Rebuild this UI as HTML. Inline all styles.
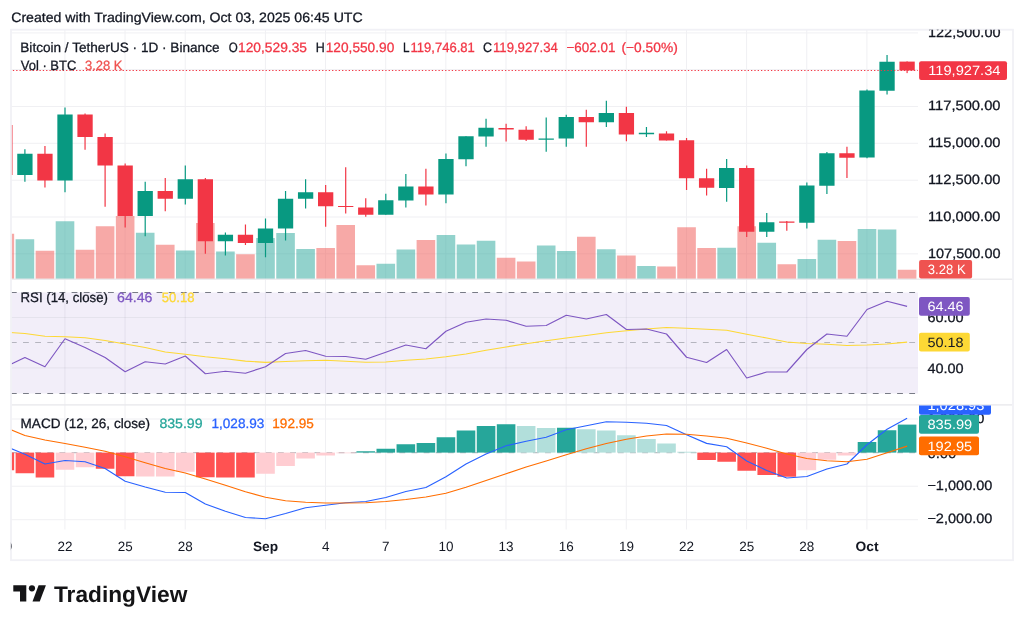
<!DOCTYPE html>
<html lang="en"><head><meta charset="utf-8"><title>BTCUSDT chart</title>
<style>
html,body{margin:0;padding:0;background:#fff;}
body{width:1024px;height:627px;overflow:hidden;}
svg{display:block;will-change:transform;}
text{font-family:'Liberation Sans', sans-serif;text-rendering:geometricPrecision;}
</style></head><body>
<svg width="1024" height="627" viewBox="0 0 1024 627" fill="#131722">
<defs>
<clipPath id="cm"><rect x="10.9" y="29.5" width="907.1" height="249.7"/></clipPath>
<clipPath id="cr"><rect x="10.9" y="279.2" width="907.1" height="125.69999999999999"/></clipPath>
<clipPath id="cd"><rect x="10.9" y="404.9" width="907.1" height="124.60000000000002"/></clipPath>
<clipPath id="cda"><rect x="918.0" y="405.4" width="94.5" height="124.60000000000002"/></clipPath>
<clipPath id="cax"><rect x="918.0" y="29.8" width="94.5" height="530.0"/></clipPath>
<clipPath id="ct"><rect x="10.9" y="529.5" width="1001.6" height="30.0"/></clipPath>
</defs>
<rect width="1024" height="627" fill="#fff"/>

<text x="11.2" y="21.7" font-size="13.6" stroke="#131722" stroke-width="0.28" textLength="351.5" lengthAdjust="spacingAndGlyphs">Created with TradingView.com, Oct 03, 2025 06:45 UTC</text>
<rect x="64.40" y="29.5" width="1.0" height="500.0" fill="#f0f0f3"/>
<rect x="124.55" y="29.5" width="1.0" height="500.0" fill="#f0f0f3"/>
<rect x="184.70" y="29.5" width="1.0" height="500.0" fill="#f0f0f3"/>
<rect x="264.90" y="29.5" width="1.0" height="500.0" fill="#f0f0f3"/>
<rect x="325.05" y="29.5" width="1.0" height="500.0" fill="#f0f0f3"/>
<rect x="385.20" y="29.5" width="1.0" height="500.0" fill="#f0f0f3"/>
<rect x="445.35" y="29.5" width="1.0" height="500.0" fill="#f0f0f3"/>
<rect x="505.50" y="29.5" width="1.0" height="500.0" fill="#f0f0f3"/>
<rect x="565.65" y="29.5" width="1.0" height="500.0" fill="#f0f0f3"/>
<rect x="625.80" y="29.5" width="1.0" height="500.0" fill="#f0f0f3"/>
<rect x="685.95" y="29.5" width="1.0" height="500.0" fill="#f0f0f3"/>
<rect x="746.10" y="29.5" width="1.0" height="500.0" fill="#f0f0f3"/>
<rect x="806.25" y="29.5" width="1.0" height="500.0" fill="#f0f0f3"/>
<rect x="866.40" y="29.5" width="1.0" height="500.0" fill="#f0f0f3"/>
<rect x="10.9" y="32.40" width="907.1" height="1.0" fill="#f0f0f3"/>
<rect x="10.9" y="69.10" width="907.1" height="1.0" fill="#f0f0f3"/>
<rect x="10.9" y="105.96" width="907.1" height="1.0" fill="#f0f0f3"/>
<rect x="10.9" y="142.80" width="907.1" height="1.0" fill="#f0f0f3"/>
<rect x="10.9" y="179.70" width="907.1" height="1.0" fill="#f0f0f3"/>
<rect x="10.9" y="216.50" width="907.1" height="1.0" fill="#f0f0f3"/>
<rect x="10.9" y="253.37" width="907.1" height="1.0" fill="#f0f0f3"/>
<rect x="10.9" y="292.5" width="907.1" height="101.00" fill="#7e57c2" fill-opacity="0.1"/>
<rect x="10.9" y="317.00" width="907.1" height="1.0" fill="#2a2e39" fill-opacity="0.06"/>
<rect x="10.9" y="367.40" width="907.1" height="1.0" fill="#2a2e39" fill-opacity="0.06"/>
<rect x="10.9" y="418.50" width="907.1" height="1.0" fill="#f0f0f3"/>
<rect x="10.9" y="485.70" width="907.1" height="1.0" fill="#f0f0f3"/>
<rect x="10.9" y="519.20" width="907.1" height="1.0" fill="#f0f0f3"/>
<g clip-path="url(#cm)">
<rect x="-4.45" y="233.75" width="18.6" height="45.45" fill="#ef5350" fill-opacity="0.5"/>
<rect x="15.60" y="239.25" width="18.6" height="39.95" fill="#26a69a" fill-opacity="0.5"/>
<rect x="35.65" y="250.75" width="18.6" height="28.45" fill="#ef5350" fill-opacity="0.5"/>
<rect x="55.70" y="221.25" width="18.6" height="57.95" fill="#26a69a" fill-opacity="0.5"/>
<rect x="75.75" y="249.75" width="18.6" height="29.45" fill="#ef5350" fill-opacity="0.5"/>
<rect x="95.80" y="226.25" width="18.6" height="52.95" fill="#ef5350" fill-opacity="0.5"/>
<rect x="115.85" y="216.00" width="18.6" height="63.20" fill="#ef5350" fill-opacity="0.5"/>
<rect x="135.90" y="232.75" width="18.6" height="46.45" fill="#26a69a" fill-opacity="0.5"/>
<rect x="155.95" y="244.75" width="18.6" height="34.45" fill="#ef5350" fill-opacity="0.5"/>
<rect x="176.00" y="250.50" width="18.6" height="28.70" fill="#26a69a" fill-opacity="0.5"/>
<rect x="196.05" y="223.00" width="18.6" height="56.20" fill="#ef5350" fill-opacity="0.5"/>
<rect x="216.10" y="251.50" width="18.6" height="27.70" fill="#26a69a" fill-opacity="0.5"/>
<rect x="236.15" y="254.25" width="18.6" height="24.95" fill="#ef5350" fill-opacity="0.5"/>
<rect x="256.20" y="238.00" width="18.6" height="41.20" fill="#26a69a" fill-opacity="0.5"/>
<rect x="276.25" y="233.00" width="18.6" height="46.20" fill="#26a69a" fill-opacity="0.5"/>
<rect x="296.30" y="249.00" width="18.6" height="30.20" fill="#26a69a" fill-opacity="0.5"/>
<rect x="316.35" y="248.00" width="18.6" height="31.20" fill="#ef5350" fill-opacity="0.5"/>
<rect x="336.40" y="225.00" width="18.6" height="54.20" fill="#ef5350" fill-opacity="0.5"/>
<rect x="356.45" y="265.25" width="18.6" height="13.95" fill="#ef5350" fill-opacity="0.5"/>
<rect x="376.50" y="263.75" width="18.6" height="15.45" fill="#26a69a" fill-opacity="0.5"/>
<rect x="396.55" y="249.50" width="18.6" height="29.70" fill="#26a69a" fill-opacity="0.5"/>
<rect x="416.60" y="240.00" width="18.6" height="39.20" fill="#ef5350" fill-opacity="0.5"/>
<rect x="436.65" y="235.00" width="18.6" height="44.20" fill="#26a69a" fill-opacity="0.5"/>
<rect x="456.70" y="244.50" width="18.6" height="34.70" fill="#26a69a" fill-opacity="0.5"/>
<rect x="476.75" y="240.75" width="18.6" height="38.45" fill="#26a69a" fill-opacity="0.5"/>
<rect x="496.80" y="257.75" width="18.6" height="21.45" fill="#ef5350" fill-opacity="0.5"/>
<rect x="516.85" y="261.50" width="18.6" height="17.70" fill="#ef5350" fill-opacity="0.5"/>
<rect x="536.90" y="245.50" width="18.6" height="33.70" fill="#26a69a" fill-opacity="0.5"/>
<rect x="556.95" y="251.00" width="18.6" height="28.20" fill="#26a69a" fill-opacity="0.5"/>
<rect x="577.00" y="236.75" width="18.6" height="42.45" fill="#ef5350" fill-opacity="0.5"/>
<rect x="597.05" y="249.25" width="18.6" height="29.95" fill="#26a69a" fill-opacity="0.5"/>
<rect x="617.10" y="255.50" width="18.6" height="23.70" fill="#ef5350" fill-opacity="0.5"/>
<rect x="637.15" y="266.00" width="18.6" height="13.20" fill="#26a69a" fill-opacity="0.5"/>
<rect x="657.20" y="266.50" width="18.6" height="12.70" fill="#ef5350" fill-opacity="0.5"/>
<rect x="677.25" y="227.25" width="18.6" height="51.95" fill="#ef5350" fill-opacity="0.5"/>
<rect x="697.30" y="248.00" width="18.6" height="31.20" fill="#ef5350" fill-opacity="0.5"/>
<rect x="717.35" y="247.75" width="18.6" height="31.45" fill="#26a69a" fill-opacity="0.5"/>
<rect x="737.40" y="226.25" width="18.6" height="52.95" fill="#ef5350" fill-opacity="0.5"/>
<rect x="757.45" y="242.75" width="18.6" height="36.45" fill="#26a69a" fill-opacity="0.5"/>
<rect x="777.50" y="264.25" width="18.6" height="14.95" fill="#ef5350" fill-opacity="0.5"/>
<rect x="797.55" y="259.00" width="18.6" height="20.20" fill="#26a69a" fill-opacity="0.5"/>
<rect x="817.60" y="239.75" width="18.6" height="39.45" fill="#26a69a" fill-opacity="0.5"/>
<rect x="837.65" y="241.00" width="18.6" height="38.20" fill="#ef5350" fill-opacity="0.5"/>
<rect x="857.70" y="229.00" width="18.6" height="50.20" fill="#26a69a" fill-opacity="0.5"/>
<rect x="877.75" y="229.50" width="18.6" height="49.70" fill="#26a69a" fill-opacity="0.5"/>
<rect x="897.80" y="269.75" width="18.6" height="9.45" fill="#ef5350" fill-opacity="0.5"/>
<rect x="4.25" y="121.00" width="1.2" height="55.00" fill="#f23645"/>
<rect x="-2.80" y="125.00" width="15.3" height="50.00" fill="#f23645"/>
<rect x="24.30" y="149.25" width="1.2" height="32.50" fill="#089981"/>
<rect x="17.25" y="153.75" width="15.3" height="21.25" fill="#089981"/>
<rect x="44.35" y="146.00" width="1.2" height="41.50" fill="#f23645"/>
<rect x="37.30" y="153.75" width="15.3" height="26.75" fill="#f23645"/>
<rect x="64.40" y="107.50" width="1.2" height="84.75" fill="#089981"/>
<rect x="57.35" y="114.50" width="15.3" height="66.00" fill="#089981"/>
<rect x="84.45" y="113.50" width="1.2" height="36.25" fill="#f23645"/>
<rect x="77.40" y="114.50" width="15.3" height="22.50" fill="#f23645"/>
<rect x="104.50" y="133.50" width="1.2" height="73.25" fill="#f23645"/>
<rect x="97.45" y="137.00" width="15.3" height="28.50" fill="#f23645"/>
<rect x="124.55" y="163.50" width="1.2" height="64.00" fill="#f23645"/>
<rect x="117.50" y="165.50" width="15.3" height="50.50" fill="#f23645"/>
<rect x="144.60" y="181.75" width="1.2" height="54.50" fill="#089981"/>
<rect x="137.55" y="191.00" width="15.3" height="25.00" fill="#089981"/>
<rect x="164.65" y="178.00" width="1.2" height="33.25" fill="#f23645"/>
<rect x="157.60" y="191.00" width="15.3" height="7.75" fill="#f23645"/>
<rect x="184.70" y="165.50" width="1.2" height="39.00" fill="#089981"/>
<rect x="177.65" y="179.25" width="15.3" height="19.50" fill="#089981"/>
<rect x="204.75" y="178.00" width="1.2" height="75.75" fill="#f23645"/>
<rect x="197.70" y="179.25" width="15.3" height="62.00" fill="#f23645"/>
<rect x="224.80" y="232.50" width="1.2" height="23.00" fill="#089981"/>
<rect x="217.75" y="234.75" width="15.3" height="6.50" fill="#089981"/>
<rect x="244.85" y="224.50" width="1.2" height="20.50" fill="#f23645"/>
<rect x="237.80" y="234.75" width="15.3" height="8.25" fill="#f23645"/>
<rect x="264.90" y="218.50" width="1.2" height="38.75" fill="#089981"/>
<rect x="257.85" y="228.50" width="15.3" height="14.50" fill="#089981"/>
<rect x="284.95" y="191.00" width="1.2" height="49.50" fill="#089981"/>
<rect x="277.90" y="198.75" width="15.3" height="29.75" fill="#089981"/>
<rect x="305.00" y="179.25" width="1.2" height="29.25" fill="#089981"/>
<rect x="297.95" y="192.25" width="15.3" height="6.50" fill="#089981"/>
<rect x="325.05" y="185.00" width="1.2" height="41.75" fill="#f23645"/>
<rect x="318.00" y="192.25" width="15.3" height="14.00" fill="#f23645"/>
<rect x="345.10" y="167.25" width="1.2" height="46.25" fill="#f23645"/>
<rect x="338.05" y="206.00" width="15.3" height="1.00" fill="#f23645"/>
<rect x="365.15" y="198.25" width="1.2" height="18.50" fill="#f23645"/>
<rect x="358.10" y="207.50" width="15.3" height="7.25" fill="#f23645"/>
<rect x="385.20" y="193.75" width="1.2" height="21.00" fill="#089981"/>
<rect x="378.15" y="200.25" width="15.3" height="14.50" fill="#089981"/>
<rect x="405.25" y="174.00" width="1.2" height="33.50" fill="#089981"/>
<rect x="398.20" y="186.50" width="15.3" height="14.00" fill="#089981"/>
<rect x="425.30" y="168.75" width="1.2" height="36.75" fill="#f23645"/>
<rect x="418.25" y="186.50" width="15.3" height="8.00" fill="#f23645"/>
<rect x="445.35" y="153.50" width="1.2" height="49.75" fill="#089981"/>
<rect x="438.30" y="159.00" width="15.3" height="35.50" fill="#089981"/>
<rect x="465.40" y="136.25" width="1.2" height="30.00" fill="#089981"/>
<rect x="458.35" y="136.25" width="15.3" height="23.00" fill="#089981"/>
<rect x="485.45" y="118.75" width="1.2" height="28.00" fill="#089981"/>
<rect x="478.40" y="127.75" width="15.3" height="8.75" fill="#089981"/>
<rect x="505.50" y="123.75" width="1.2" height="17.75" fill="#f23645"/>
<rect x="498.45" y="128.00" width="15.3" height="1.50" fill="#f23645"/>
<rect x="525.55" y="126.25" width="1.2" height="14.75" fill="#f23645"/>
<rect x="518.50" y="129.75" width="15.3" height="10.00" fill="#f23645"/>
<rect x="545.60" y="117.50" width="1.2" height="34.25" fill="#089981"/>
<rect x="538.55" y="138.50" width="15.3" height="1.25" fill="#089981"/>
<rect x="565.65" y="114.75" width="1.2" height="32.00" fill="#089981"/>
<rect x="558.60" y="117.00" width="15.3" height="21.50" fill="#089981"/>
<rect x="585.70" y="109.75" width="1.2" height="37.00" fill="#f23645"/>
<rect x="578.65" y="117.00" width="15.3" height="5.25" fill="#f23645"/>
<rect x="605.75" y="100.75" width="1.2" height="26.25" fill="#089981"/>
<rect x="598.70" y="113.00" width="15.3" height="9.25" fill="#089981"/>
<rect x="625.80" y="106.75" width="1.2" height="34.50" fill="#f23645"/>
<rect x="618.75" y="113.00" width="15.3" height="21.50" fill="#f23645"/>
<rect x="645.85" y="127.00" width="1.2" height="10.00" fill="#089981"/>
<rect x="638.80" y="132.75" width="15.3" height="1.50" fill="#089981"/>
<rect x="665.90" y="131.25" width="1.2" height="9.25" fill="#f23645"/>
<rect x="658.85" y="133.50" width="15.3" height="7.00" fill="#f23645"/>
<rect x="685.95" y="138.00" width="1.2" height="52.00" fill="#f23645"/>
<rect x="678.90" y="140.25" width="15.3" height="38.00" fill="#f23645"/>
<rect x="706.00" y="168.75" width="1.2" height="26.75" fill="#f23645"/>
<rect x="698.95" y="178.25" width="15.3" height="9.50" fill="#f23645"/>
<rect x="726.05" y="159.00" width="1.2" height="42.75" fill="#089981"/>
<rect x="719.00" y="168.00" width="15.3" height="20.00" fill="#089981"/>
<rect x="746.10" y="165.50" width="1.2" height="71.50" fill="#f23645"/>
<rect x="739.05" y="168.00" width="15.3" height="63.75" fill="#f23645"/>
<rect x="766.15" y="213.00" width="1.2" height="24.00" fill="#089981"/>
<rect x="759.10" y="222.25" width="15.3" height="9.50" fill="#089981"/>
<rect x="786.20" y="221.00" width="1.2" height="9.75" fill="#f23645"/>
<rect x="779.15" y="221.50" width="15.3" height="1.25" fill="#f23645"/>
<rect x="806.25" y="182.50" width="1.2" height="46.00" fill="#089981"/>
<rect x="799.20" y="185.50" width="15.3" height="37.25" fill="#089981"/>
<rect x="826.30" y="152.00" width="1.2" height="42.00" fill="#089981"/>
<rect x="819.25" y="153.25" width="15.3" height="32.50" fill="#089981"/>
<rect x="846.35" y="146.75" width="1.2" height="31.25" fill="#f23645"/>
<rect x="839.30" y="153.25" width="15.3" height="4.50" fill="#f23645"/>
<rect x="866.40" y="89.50" width="1.2" height="68.75" fill="#089981"/>
<rect x="859.35" y="90.50" width="15.3" height="67.00" fill="#089981"/>
<rect x="886.45" y="55.00" width="1.2" height="39.50" fill="#089981"/>
<rect x="879.40" y="61.75" width="15.3" height="29.00" fill="#089981"/>
<rect x="906.50" y="61.40" width="1.2" height="11.70" fill="#f23645"/>
<rect x="899.45" y="61.60" width="15.3" height="8.85" fill="#f23645"/>
</g>
<line x1="12.87" y1="70.5" x2="918.0" y2="70.5" stroke="#f23645" stroke-width="1.2" stroke-dasharray="1.3 2.025"/>
<g clip-path="url(#cr)">
<line x1="10.9" y1="292.5" x2="918.0" y2="292.5" stroke="#787b86" stroke-width="1.2" stroke-dasharray="5.8 6.34"/>
<line x1="10.9" y1="342.5" x2="918.0" y2="342.5" stroke="#787b86" stroke-opacity="0.5" stroke-width="1.2" stroke-dasharray="5.8 6.34"/>
<line x1="10.9" y1="393.5" x2="918.0" y2="393.5" stroke="#787b86" stroke-width="1.2" stroke-dasharray="5.8 6.34"/>
<polyline points="4.85,332.20 24.90,333.50 44.95,336.25 65.00,336.75 85.05,337.75 105.10,340.50 125.15,344.00 145.20,347.50 165.25,352.00 185.30,354.25 205.35,356.75 225.40,358.75 245.45,361.10 265.50,362.40 285.55,361.50 305.60,360.75 325.65,360.25 345.70,361.25 365.75,362.25 385.80,362.00 405.85,360.25 425.90,359.00 445.95,356.75 466.00,354.00 486.05,350.30 506.10,347.00 526.15,343.75 546.20,340.75 566.25,338.00 586.30,335.50 606.35,332.75 626.40,330.75 646.45,329.00 666.50,327.50 686.55,328.25 706.60,329.25 726.65,330.25 746.70,334.25 766.75,338.00 786.80,342.00 806.85,343.50 826.90,344.25 846.95,345.50 867.00,345.00 887.05,344.00 907.10,342.10" fill="none" stroke="#fdd835" stroke-width="1.15" stroke-linejoin="round"/>
<polyline points="4.85,367.20 24.90,357.50 44.95,366.75 65.00,338.75 85.05,347.50 105.10,357.50 125.15,371.75 145.20,361.75 165.25,364.00 185.30,356.00 205.35,373.75 225.40,371.25 245.45,373.25 265.50,366.75 285.55,353.50 305.60,350.50 325.65,356.25 345.70,356.50 365.75,359.25 385.80,352.25 405.85,345.00 425.90,348.75 445.95,331.25 466.00,322.25 486.05,319.00 506.10,320.25 526.15,326.25 546.20,325.50 566.25,315.25 586.30,319.00 606.35,314.50 626.40,329.50 646.45,329.00 666.50,334.00 686.55,357.25 706.60,362.50 726.65,349.50 746.70,378.00 766.75,372.00 786.80,372.00 806.85,349.50 826.90,334.00 846.95,336.25 867.00,309.50 887.05,301.25 907.10,306.40" fill="none" stroke="#7e57c2" stroke-width="1.15" stroke-linejoin="round"/>
</g>
<g clip-path="url(#cd)">
<line x1="10.9" y1="452.6" x2="918.0" y2="452.6" stroke="#787b86" stroke-opacity="0.5" stroke-width="1.2" stroke-dasharray="5.8 6.34"/>
<rect x="-4.45" y="452.6" width="18.6" height="17.65" fill="#ff5252"/>
<rect x="15.60" y="452.6" width="18.6" height="20.65" fill="#ff5252"/>
<rect x="35.65" y="452.6" width="18.6" height="24.90" fill="#ff5252"/>
<rect x="55.70" y="452.6" width="18.6" height="17.15" fill="#ffcdd2"/>
<rect x="75.75" y="452.6" width="18.6" height="14.65" fill="#ffcdd2"/>
<rect x="95.80" y="452.6" width="18.6" height="16.15" fill="#ff5252"/>
<rect x="115.85" y="452.6" width="18.6" height="23.65" fill="#ff5252"/>
<rect x="135.90" y="452.6" width="18.6" height="23.90" fill="#ffcdd2"/>
<rect x="155.95" y="452.6" width="18.6" height="23.90" fill="#ffcdd2"/>
<rect x="176.00" y="452.6" width="18.6" height="19.15" fill="#ffcdd2"/>
<rect x="196.05" y="452.6" width="18.6" height="24.65" fill="#ff5252"/>
<rect x="216.10" y="452.6" width="18.6" height="24.90" fill="#ff5252"/>
<rect x="236.15" y="452.6" width="18.6" height="24.90" fill="#ff5252"/>
<rect x="256.20" y="452.6" width="18.6" height="21.15" fill="#ffcdd2"/>
<rect x="276.25" y="452.6" width="18.6" height="13.40" fill="#ffcdd2"/>
<rect x="296.30" y="452.6" width="18.6" height="5.90" fill="#ffcdd2"/>
<rect x="316.35" y="452.6" width="18.6" height="2.90" fill="#ffcdd2"/>
<rect x="336.40" y="452.6" width="18.6" height="0.65" fill="#ffcdd2"/>
<rect x="356.45" y="451.25" width="18.6" height="1.35" fill="#26a69a"/>
<rect x="376.50" y="448.75" width="18.6" height="3.85" fill="#26a69a"/>
<rect x="396.55" y="444.25" width="18.6" height="8.35" fill="#26a69a"/>
<rect x="416.60" y="443.00" width="18.6" height="9.60" fill="#26a69a"/>
<rect x="436.65" y="437.25" width="18.6" height="15.35" fill="#26a69a"/>
<rect x="456.70" y="430.50" width="18.6" height="22.10" fill="#26a69a"/>
<rect x="476.75" y="426.00" width="18.6" height="26.60" fill="#26a69a"/>
<rect x="496.80" y="424.25" width="18.6" height="28.35" fill="#26a69a"/>
<rect x="516.85" y="426.00" width="18.6" height="26.60" fill="#b2dfdb"/>
<rect x="536.90" y="428.00" width="18.6" height="24.60" fill="#b2dfdb"/>
<rect x="556.95" y="427.75" width="18.6" height="24.85" fill="#26a69a"/>
<rect x="577.00" y="429.25" width="18.6" height="23.35" fill="#b2dfdb"/>
<rect x="597.05" y="430.50" width="18.6" height="22.10" fill="#b2dfdb"/>
<rect x="617.10" y="435.25" width="18.6" height="17.35" fill="#b2dfdb"/>
<rect x="637.15" y="439.00" width="18.6" height="13.60" fill="#b2dfdb"/>
<rect x="657.20" y="443.50" width="18.6" height="9.10" fill="#b2dfdb"/>
<rect x="677.25" y="451.75" width="18.6" height="0.85" fill="#b2dfdb"/>
<rect x="697.30" y="452.6" width="18.6" height="7.40" fill="#ff5252"/>
<rect x="717.35" y="452.6" width="18.6" height="9.15" fill="#ff5252"/>
<rect x="737.40" y="452.6" width="18.6" height="18.15" fill="#ff5252"/>
<rect x="757.45" y="452.6" width="18.6" height="22.40" fill="#ff5252"/>
<rect x="777.50" y="452.6" width="18.6" height="24.15" fill="#ff5252"/>
<rect x="797.55" y="452.6" width="18.6" height="17.65" fill="#ffcdd2"/>
<rect x="817.60" y="452.6" width="18.6" height="7.15" fill="#ffcdd2"/>
<rect x="837.65" y="452.6" width="18.6" height="2.90" fill="#ffcdd2"/>
<rect x="857.70" y="442.00" width="18.6" height="10.60" fill="#26a69a"/>
<rect x="877.75" y="430.25" width="18.6" height="22.35" fill="#26a69a"/>
<rect x="897.80" y="424.60" width="18.6" height="28.00" fill="#26a69a"/>
<polyline points="4.85,446.00 24.90,454.25 44.95,464.00 65.00,460.50 85.05,461.75 105.10,468.50 125.15,481.25 145.20,487.00 165.25,492.25 185.30,492.50 205.35,504.00 225.40,511.25 245.45,517.50 265.50,518.75 285.55,513.50 305.60,507.75 325.65,505.25 345.70,502.75 365.75,501.50 385.80,497.50 405.85,491.50 425.90,487.50 445.95,476.75 466.00,464.00 486.05,454.00 506.10,445.75 526.15,441.25 546.20,437.25 566.25,429.75 586.30,425.75 606.35,421.75 626.40,422.25 646.45,423.25 666.50,425.50 686.55,434.75 706.60,443.40 726.65,446.75 746.70,461.00 766.75,470.50 786.80,478.00 806.85,476.50 826.90,469.00 846.95,464.00 867.00,444.75 887.05,429.25 907.10,418.20" fill="none" stroke="#2962ff" stroke-width="1.15" stroke-linejoin="round"/>
<polyline points="4.85,427.20 24.90,435.50 44.95,440.00 65.00,443.50 85.05,447.25 105.10,451.25 125.15,456.75 145.20,462.75 165.25,468.50 185.30,473.00 205.35,479.00 225.40,485.25 245.45,491.75 265.50,497.25 285.55,500.75 305.60,502.25 325.65,503.00 345.70,503.00 365.75,502.75 385.80,501.50 405.85,499.50 425.90,497.00 445.95,493.25 466.00,487.25 486.05,480.50 506.10,473.75 526.15,467.00 546.20,461.00 566.25,454.75 586.30,448.75 606.35,443.50 626.40,439.25 646.45,436.00 666.50,434.00 686.55,434.25 706.60,436.00 726.65,438.25 746.70,443.00 766.75,448.25 786.80,454.00 806.85,458.50 826.90,460.75 846.95,461.75 867.00,459.25 887.05,452.75 907.10,446.10" fill="none" stroke="#ff6d00" stroke-width="1.15" stroke-linejoin="round"/>
</g>
<rect x="10.5" y="278.55" width="1002.0" height="1.3" fill="#e8e8eb"/>
<rect x="10.5" y="404.25" width="1002.0" height="1.3" fill="#e8e8eb"/>
<rect x="11.0" y="29.7" width="1002.0" height="530.5" fill="none" stroke="#f1f1f6" stroke-width="1.8"/>
<text x="20.3" y="52.0" font-size="13.5" textLength="199.2" lengthAdjust="spacingAndGlyphs" stroke="#131722" stroke-width="0.28">Bitcoin / TetherUS · 1D · Binance</text>
<text x="228.75" y="52.0" font-size="13.5" textLength="9.0" lengthAdjust="spacingAndGlyphs" stroke="#131722" stroke-width="0.28">O</text>
<text x="238" y="52.0" font-size="13.5" textLength="69" lengthAdjust="spacingAndGlyphs" fill="#f23645" stroke="#f23645" stroke-width="0.28">120,529.35</text>
<text x="315.75" y="52.0" font-size="13.5" textLength="9.0" lengthAdjust="spacingAndGlyphs" stroke="#131722" stroke-width="0.28">H</text>
<text x="325.75" y="52.0" font-size="13.5" textLength="68.5" lengthAdjust="spacingAndGlyphs" fill="#f23645" stroke="#f23645" stroke-width="0.28">120,550.90</text>
<text x="403" y="52.0" font-size="13.5" textLength="6.5" lengthAdjust="spacingAndGlyphs" stroke="#131722" stroke-width="0.28">L</text>
<text x="410.5" y="52.0" font-size="13.5" textLength="64.25" lengthAdjust="spacingAndGlyphs" fill="#f23645" stroke="#f23645" stroke-width="0.28">119,746.81</text>
<text x="483" y="52.0" font-size="13.5" textLength="9.0" lengthAdjust="spacingAndGlyphs" stroke="#131722" stroke-width="0.28">C</text>
<text x="493" y="52.0" font-size="13.5" textLength="64.75" lengthAdjust="spacingAndGlyphs" fill="#f23645" stroke="#f23645" stroke-width="0.28">119,927.34</text>
<text x="566.5" y="52.0" font-size="13.5" textLength="49" lengthAdjust="spacingAndGlyphs" fill="#f23645" stroke="#f23645" stroke-width="0.28">−602.01</text>
<text x="621.5" y="52.0" font-size="13.5" textLength="56.25" lengthAdjust="spacingAndGlyphs" fill="#f23645" stroke="#f23645" stroke-width="0.28">(−0.50%)</text>
<text x="20.75" y="70.4" font-size="13.5" textLength="55.5" lengthAdjust="spacingAndGlyphs" stroke="#131722" stroke-width="0.28">Vol · BTC</text>
<text x="85" y="70.4" font-size="13.5" textLength="37.5" lengthAdjust="spacingAndGlyphs" fill="#ef5350" stroke="#ef5350" stroke-width="0.28">3.28 K</text>
<text x="20.5" y="302" font-size="13.5" textLength="87.5" lengthAdjust="spacingAndGlyphs" stroke="#131722" stroke-width="0.28">RSI (14, close)</text>
<text x="117" y="302" font-size="13.5" textLength="35.5" lengthAdjust="spacingAndGlyphs" fill="#7e57c2" stroke="#7e57c2" stroke-width="0.28">64.46</text>
<text x="161.75" y="302" font-size="13.5" textLength="32.75" lengthAdjust="spacingAndGlyphs" fill="#fdd835" stroke="#fdd835" stroke-width="0.28">50.18</text>
<text x="20.6" y="427.5" font-size="13.5" textLength="129.4" lengthAdjust="spacingAndGlyphs" stroke="#131722" stroke-width="0.28">MACD (12, 26, close)</text>
<text x="159.4" y="427.5" font-size="13.5" textLength="43.1" lengthAdjust="spacingAndGlyphs" fill="#26a69a" stroke="#26a69a" stroke-width="0.28">835.99</text>
<text x="211.5" y="427.5" font-size="13.5" textLength="52.8" lengthAdjust="spacingAndGlyphs" fill="#2962ff" stroke="#2962ff" stroke-width="0.28">1,028.93</text>
<text x="272.3" y="427.5" font-size="13.5" textLength="41.5" lengthAdjust="spacingAndGlyphs" fill="#ff6d00" stroke="#ff6d00" stroke-width="0.28">192.95</text>
<text x="928.0" y="36.559999999999995" font-size="13.5" textLength="72.5" lengthAdjust="spacingAndGlyphs" stroke="#131722" stroke-width="0.28" clip-path="url(#cax)">122,500.00</text>
<text x="928.0" y="73.39999999999999" font-size="13.5" textLength="72.5" lengthAdjust="spacingAndGlyphs" stroke="#131722" stroke-width="0.28" clip-path="url(#cax)">120,000.00</text>
<text x="928.0" y="110.25999999999999" font-size="13.5" textLength="72.5" lengthAdjust="spacingAndGlyphs" stroke="#131722" stroke-width="0.28" clip-path="url(#cax)">117,500.00</text>
<text x="928.0" y="147.10000000000002" font-size="13.5" textLength="72.5" lengthAdjust="spacingAndGlyphs" stroke="#131722" stroke-width="0.28" clip-path="url(#cax)">115,000.00</text>
<text x="928.0" y="184.0" font-size="13.5" textLength="72.5" lengthAdjust="spacingAndGlyphs" stroke="#131722" stroke-width="0.28" clip-path="url(#cax)">112,500.00</text>
<text x="928.0" y="220.8" font-size="13.5" textLength="72.5" lengthAdjust="spacingAndGlyphs" stroke="#131722" stroke-width="0.28" clip-path="url(#cax)">110,000.00</text>
<text x="928.0" y="257.67" font-size="13.5" textLength="72.5" lengthAdjust="spacingAndGlyphs" stroke="#131722" stroke-width="0.28" clip-path="url(#cax)">107,500.00</text>
<text x="927.4" y="322.4" font-size="13.5" textLength="36.2" lengthAdjust="spacingAndGlyphs" stroke="#131722" stroke-width="0.28">60.00</text>
<text x="927.4" y="373.2" font-size="13.5" textLength="36.2" lengthAdjust="spacingAndGlyphs" stroke="#131722" stroke-width="0.28">40.00</text>
<text x="927.4" y="422.9" font-size="13.5" textLength="57" lengthAdjust="spacingAndGlyphs" stroke="#131722" stroke-width="0.28">1,000.00</text>
<text x="927.4" y="457.6" font-size="13.5" textLength="29" lengthAdjust="spacingAndGlyphs" stroke="#131722" stroke-width="0.28">0.00</text>
<text x="927.4" y="489.8" font-size="13.5" textLength="65" lengthAdjust="spacingAndGlyphs" stroke="#131722" stroke-width="0.28">−1,000.00</text>
<text x="927.4" y="523.3" font-size="13.5" textLength="65" lengthAdjust="spacingAndGlyphs" stroke="#131722" stroke-width="0.28">−2,000.00</text>
<g><rect x="919.1" y="61.27" width="87.9" height="18.8" rx="2" ry="2" fill="#f23645"/>
<text x="928.2" y="74.77" font-size="13.5" fill="#fff" textLength="72.3" lengthAdjust="spacingAndGlyphs">119,927.34</text></g>
<g><rect x="919.1" y="260.05" width="53.0" height="18.5" rx="2" ry="2" fill="#ef5350"/>
<text x="927.8" y="274.40" font-size="13.5" fill="#fff" textLength="37.8" lengthAdjust="spacingAndGlyphs">3.28 K</text></g>
<g><rect x="919.0" y="296.90" width="50.8" height="18.8" rx="2" ry="2" fill="#7e57c2"/>
<text x="927.4" y="310.90" font-size="13.5" fill="#fff" textLength="36.2" lengthAdjust="spacingAndGlyphs">64.46</text></g>
<g><rect x="919.0" y="332.70" width="50.8" height="18.8" rx="2" ry="2" fill="#fdd835"/>
<text x="927.4" y="346.60" font-size="13.5" fill="#131722" textLength="36.2" lengthAdjust="spacingAndGlyphs">50.18</text></g>
<g clip-path="url(#cda)"><rect x="919.0" y="396.00" width="72" height="18.8" rx="2" ry="2" fill="#2962ff"/>
<text x="927.4" y="409.95" font-size="13.5" fill="#fff" textLength="57" lengthAdjust="spacingAndGlyphs">1,028.93</text></g>
<g><rect x="919.0" y="414.95" width="60" height="18.8" rx="2" ry="2" fill="#26a69a"/>
<text x="927.4" y="428.90" font-size="13.5" fill="#fff" textLength="44.9" lengthAdjust="spacingAndGlyphs">835.99</text></g>
<g><rect x="919.0" y="436.55" width="60" height="18.8" rx="2" ry="2" fill="#ff6d00"/>
<text x="927.4" y="450.70" font-size="13.5" fill="#fff" textLength="44.9" lengthAdjust="spacingAndGlyphs">192.95</text></g>
<g clip-path="url(#ct)">
<text x="-2.65" y="550.7" font-size="13.5" textLength="15" lengthAdjust="spacingAndGlyphs">19</text>
<text x="57.50" y="550.7" font-size="13.5" textLength="15" lengthAdjust="spacingAndGlyphs">22</text>
<text x="117.65" y="550.7" font-size="13.5" textLength="15" lengthAdjust="spacingAndGlyphs">25</text>
<text x="177.80" y="550.7" font-size="13.5" textLength="15" lengthAdjust="spacingAndGlyphs">28</text>
<text x="252.90" y="550.7" font-size="13.5" font-weight="bold" textLength="25.2" lengthAdjust="spacingAndGlyphs">Sep</text>
<text x="321.90" y="550.7" font-size="13.5" textLength="7.5" lengthAdjust="spacingAndGlyphs">4</text>
<text x="382.05" y="550.7" font-size="13.5" textLength="7.5" lengthAdjust="spacingAndGlyphs">7</text>
<text x="438.45" y="550.7" font-size="13.5" textLength="15" lengthAdjust="spacingAndGlyphs">10</text>
<text x="498.60" y="550.7" font-size="13.5" textLength="15" lengthAdjust="spacingAndGlyphs">13</text>
<text x="558.75" y="550.7" font-size="13.5" textLength="15" lengthAdjust="spacingAndGlyphs">16</text>
<text x="618.90" y="550.7" font-size="13.5" textLength="15" lengthAdjust="spacingAndGlyphs">19</text>
<text x="679.05" y="550.7" font-size="13.5" textLength="15" lengthAdjust="spacingAndGlyphs">22</text>
<text x="739.20" y="550.7" font-size="13.5" textLength="15" lengthAdjust="spacingAndGlyphs">25</text>
<text x="799.35" y="550.7" font-size="13.5" textLength="15" lengthAdjust="spacingAndGlyphs">28</text>
<text x="855.50" y="550.7" font-size="13.5" font-weight="bold" textLength="23" lengthAdjust="spacingAndGlyphs">Oct</text>
</g>
<g fill="#141416">
<path d="M13.3 585.2H26.3V601.4H20V591.4H13.3Z"/>
<circle cx="31.95" cy="588.3" r="3.1"/>
<path d="M38.6 585.2H45.9L39.75 601.4H32.5Z"/>
<text x="54.0" y="601.6" font-size="22.6" font-weight="bold" textLength="133.3" lengthAdjust="spacingAndGlyphs">TradingView</text>
</g>
</svg></body></html>
